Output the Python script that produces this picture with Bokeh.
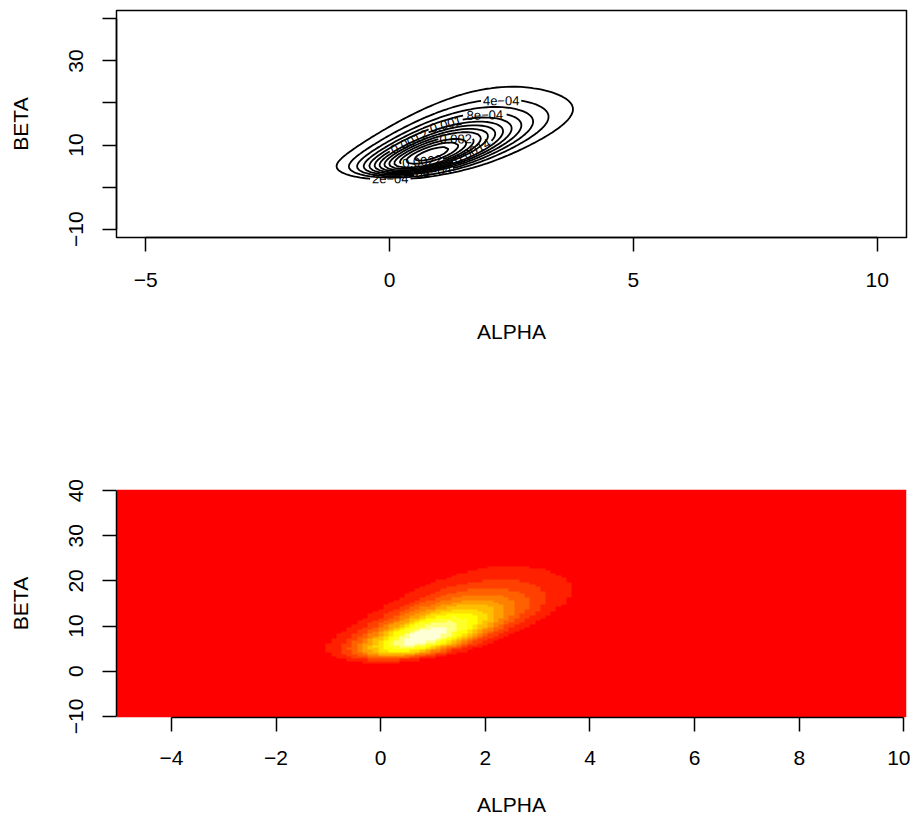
import math
import numpy as np
import contourpy
from bokeh.plotting import figure
from bokeh.layouts import column
from bokeh.models import FixedTicker, LinearColorMapper, ColumnDataSource, Range1d
from bokeh.core.properties import value
from bokeh.embed import file_html
from bokeh.resources import INLINE

# ---------------- data (bioassay experiment) ----------------
dose = [-0.86, -0.30, -0.05, 0.73]
n_animals = [5, 5, 5, 5]
deaths = [0, 1, 3, 5]

alpha_lo, alpha_hi, alpha_step = -5.0, 10.0, 0.1
beta_lo, beta_hi, beta_step = -10.0, 40.0, 0.5

heat_colors_12 = ["#FF0000", "#FF2000", "#FF4000", "#FF6000", "#FF8000", "#FF9F00",
                  "#FFBF00", "#FFDF00", "#FFFF00", "#FFFF2A", "#FFFF80", "#FFFFD5"]

top_x_ticks = [-5, 0, 5, 10]
top_x_labels = ["\u22125", "0", "5", "10"]
top_y_ticks = [-10, 0, 10, 20, 30, 40]
top_y_labels = ["\u221210", "", "10", "", "30", ""]
bot_x_ticks = [-4, -2, 0, 2, 4, 6, 8, 10]
bot_x_labels = ["\u22124", "\u22122", "0", "2", "4", "6", "8", "10"]
bot_y_ticks = [-10, 0, 10, 20, 30, 40]
bot_y_labels = ["\u221210", "0", "10", "20", "30", "40"]

# ---------------- likelihood on the grid ----------------
alpha = np.round(np.arange(alpha_lo, alpha_hi + alpha_step / 2, alpha_step), 10)
beta = np.round(np.arange(beta_lo, beta_hi + beta_step / 2, beta_step), 10)
AA, BB = np.meshgrid(alpha, beta)
xd = np.array(dose)
yd = np.array(deaths)
nd = np.array(n_animals)
eta = AA[..., None] + BB[..., None] * xd
pr = 1.0 / (1.0 + np.exp(-eta))
Z = np.prod(pr ** yd * (1.0 - pr) ** (nd - yd), axis=-1)


def pretty(lo, hi, n=10):
    cell = (hi - lo) / n
    U = 10 ** math.floor(math.log10(cell))
    h, h5 = 1.5, 0.5 + 1.5 * 1.5
    unit = U
    if 2 * U - cell < h * (cell - unit):
        unit = 2 * U
        if 5 * U - cell < h5 * (cell - unit):
            unit = 5 * U
            if 10 * U - cell < h * (cell - unit):
                unit = 10 * U
    ns = math.floor(lo / unit + 1e-7)
    nu = math.ceil(hi / unit - 1e-7)
    return np.round(np.arange(ns, nu + 1) * unit, 12)


levels = [lv for lv in pretty(Z.min(), Z.max(), 10) if Z.min() < lv < Z.max()]


def rfmt(v):
    s = 1
    while s < 15 and abs(float(f"{v:.{s-1}e}") - v) > 1e-9 * abs(v):
        s += 1
    sci = f"{v:.{s-1}e}"
    ex = int(math.floor(math.log10(abs(v))))
    dec = max(0, s - 1 - ex)
    fix = f"{v:.{dec}f}"
    out = fix if len(fix) <= len(sci) else sci
    return out.replace("-", "\u2212")


CW = {"0": .556, "1": .556, "2": .556, "3": .556, "4": .556, "5": .556, "6": .556,
      "7": .556, "8": .556, "9": .556, "e": .556, ".": .278, "\u2212": .584}
LAB_PX = 13

# ---------------- figure geometry ----------------
FW, FH_TOP, FH_BOT = 790, 227, 228
ext_a = (alpha_hi - alpha_lo) * 0.04
ext_b = (beta_hi - beta_lo) * 0.04
top_xr = (alpha_lo - ext_a, alpha_hi + ext_a)
top_yr = (beta_lo - ext_b, beta_hi + ext_b)


def to_screen(pts):
    sx = (pts[:, 0] - top_xr[0]) / (top_xr[1] - top_xr[0]) * FW
    sy = (pts[:, 1] - top_yr[0]) / (top_yr[1] - top_yr[0]) * FH_TOP
    return np.column_stack([sx, sy])


def corners(cx, cy, w, h, ang):
    c, s = math.cos(ang), math.sin(ang)
    out = []
    for dx, dy in ((-w / 2, -h / 2), (w / 2, -h / 2), (w / 2, h / 2), (-w / 2, h / 2)):
        out.append((cx + dx * c - dy * s, cy + dx * s + dy * c))
    return np.array(out)


def overlaps(r1, r2):
    for r in (r1, r2):
        for k in range(2):
            e = r[k + 1] - r[k]
            axis = np.array([-e[1], e[0]])
            p1 = r1 @ axis
            p2 = r2 @ axis
            if p1.max() < p2.min() or p2.max() < p1.min():
                return False
    return True


cg = contourpy.contour_generator(alpha, beta, Z)
line_xs, line_ys = [], []
lab_x, lab_y, lab_t, lab_a = [], [], [], []
placed = []
for lv in levels:
    lines = cg.lines(lv)
    txt = rfmt(lv)
    w = sum(CW.get(ch, .556) for ch in txt) * LAB_PX + 3
    hgt = LAB_PX * 0.8
    cands = []
    geo = []
    for li, pts in enumerate(lines):
        closed = len(pts) > 3 and np.allclose(pts[0], pts[-1])
        if closed:
            ring = pts[:-1]
            m = len(ring)
            ext = np.vstack([ring, ring])
            starts = range(m)
        else:
            m = len(pts)
            ext = pts
            starts = range(len(pts))
        S = to_screen(ext)
        seg = np.hypot(np.diff(S[:, 0]), np.diff(S[:, 1]))
        cum = np.concatenate([[0], np.cumsum(seg)])
        geo.append((closed, m, ext, S))
        for i in starts:
            j = int(np.searchsorted(cum, cum[i] + w))
            if j >= len(ext) or (closed and j - i >= m):
                continue
            ch = S[j] - S[i]
            L = math.hypot(ch[0], ch[1])
            if L < 1e-9:
                continue
            d = S[i:j + 1] - S[i]
            flat = np.max(np.abs(d[:, 0] * ch[1] - d[:, 1] * ch[0]) / L)
            ang = math.atan2(ch[1], ch[0])
            if ang > math.pi / 2:
                ang -= math.pi
            elif ang < -math.pi / 2:
                ang += math.pi
            score = flat + 20.0 * abs(ang)
            cands.append((score, li, i, j, ang))
    cands.sort()
    chosen = None
    for score, li, i, j, ang in cands:
        closed, m, ext, S = geo[li]
        cx, cy = (S[i] + S[j]) / 2
        rc = corners(cx, cy, w, hgt, ang)
        if rc[:, 0].min() < 0 or rc[:, 0].max() > FW or rc[:, 1].min() < 0 or rc[:, 1].max() > FH_TOP:
            continue
        if any(overlaps(rc, q) for q in placed):
            continue
        placed.append(rc)
        chosen = (li, i, j, ang)
        break
    for li, (closed, m, ext, S) in enumerate(geo):
        if chosen is not None and chosen[0] == li:
            _, i, j, ang = chosen
            if closed:
                pieces = [ext[j:i + m + 1]]
            else:
                pieces = [ext[:i + 1], ext[j:]]
            mid = (ext[i] + ext[j]) / 2
            lab_x.append(float(mid[0]))
            lab_y.append(float(mid[1]))
            lab_t.append(txt)
            lab_a.append(ang)
        else:
            pieces = [ext[:m + 1]] if closed else [ext]
        for pc in pieces:
            if len(pc) >= 2:
                line_xs.append(pc[:, 0].tolist())
                line_ys.append(pc[:, 1].tolist())

FONT = "Liberation Sans"
FS = "21px"


def style_axis(ax, ticks, labels, vertical=False, tick_standoff=19, label_standoff=30):
    ax.ticker = FixedTicker(ticks=ticks, minor_ticks=[])
    ax.major_label_overrides = {t: l for t, l in zip(ticks, labels)}
    ax.bounds = (min(ticks), max(ticks))
    ax.major_tick_out = 14
    ax.major_tick_in = 0
    ax.minor_tick_out = 0
    ax.minor_tick_in = 0
    ax.axis_line_width = 1.5
    ax.axis_line_color = "black"
    ax.major_tick_line_width = 1.5
    ax.major_tick_line_color = "black"
    ax.major_label_text_font = FONT
    ax.major_label_text_font_size = FS
    ax.major_label_text_color = "black"
    ax.axis_label_text_font = FONT
    ax.axis_label_text_font_size = FS
    ax.axis_label_text_font_style = "normal"
    ax.axis_label_text_color = "black"
    if vertical:
        ax.major_label_orientation = "vertical"
    ax.major_label_standoff = tick_standoff
    ax.axis_label_standoff = label_standoff


# ---------------- top: contour plot ----------------
top = figure(frame_width=FW, frame_height=FH_TOP,
             x_range=Range1d(*top_xr), y_range=Range1d(*top_yr),
             output_backend="svg", toolbar_location=None,
             min_border_left=116, min_border_right=4, min_border_top=10, min_border_bottom=163,
             background_fill_color="white", border_fill_color="white",
             outline_line_color="black", outline_line_width=1.5,
             x_axis_label="ALPHA", y_axis_label="BETA")
top.grid.visible = False
style_axis(top.xaxis[0], top_x_ticks, top_x_labels, tick_standoff=21, label_standoff=30)
style_axis(top.yaxis[0], top_y_ticks, top_y_labels, vertical=True, tick_standoff=19, label_standoff=35)
top.multi_line(xs=line_xs, ys=line_ys, line_color="black", line_width=1.8)
top.text(x="x", y="y", text="t", angle="a",
         source=ColumnDataSource(dict(x=lab_x, y=lab_y, t=lab_t, a=lab_a)),
         text_align="center", text_baseline="middle",
         text_font=value(FONT), text_font_size=f"{LAB_PX}px", text_color="black")

# ---------------- bottom: image plot ----------------
da = alpha_step / 2
db = beta_step / 2
bot = figure(frame_width=FW, frame_height=FH_BOT,
             x_range=Range1d(alpha[0] - da, alpha[-1] + da),
             y_range=Range1d(beta[0] - db, beta[-1] + db),
             output_backend="svg", toolbar_location=None,
             min_border_left=116, min_border_right=4, min_border_top=89, min_border_bottom=91,
             background_fill_color="white", border_fill_color="white",
             outline_line_color=None,
             x_axis_label="ALPHA", y_axis_label="BETA")
bot.grid.visible = False
style_axis(bot.xaxis[0], bot_x_ticks, bot_x_labels, tick_standoff=19, label_standoff=25)
style_axis(bot.yaxis[0], bot_y_ticks, bot_y_labels, vertical=True, tick_standoff=19, label_standoff=35)
mapper = LinearColorMapper(palette=heat_colors_12, low=float(Z.min()), high=float(Z.max()))
bot.image(image=[Z], x=alpha[0] - da, y=beta[0] - db,
          dw=float(alpha[-1] - alpha[0] + 2 * da), dh=float(beta[-1] - beta[0] + 2 * db),
          color_mapper=mapper)

layout = column(top, bot, spacing=0)
open("out.html", "w").write(file_html(layout, INLINE))
